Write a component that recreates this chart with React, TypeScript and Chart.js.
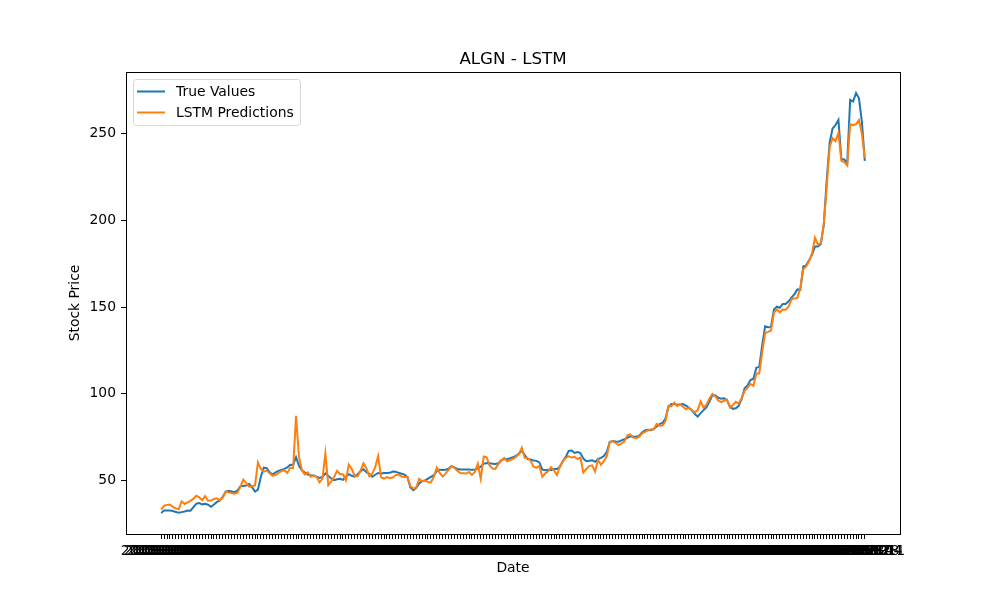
import React from 'react';
import Chart from 'chart.js/auto';

// weekly closing prices
const trueValues: number[] = [
  31.1, 32.5, 32.6, 32.5, 32.2, 31.7, 31.2, 31.6, 32, 32.5,
  32.4, 34.5, 36.5, 36.8, 36.1, 36.4, 35.9, 34.7, 36, 37.5,
  38.2, 40.5, 43.3, 43.9, 43.5, 43.1, 44, 46.5, 46.7, 47,
  47.8, 46, 43.5, 44.6, 52, 57.3, 57, 54.6, 53.3, 54.6,
  55.4, 56, 56.6, 57.4, 59, 58.8, 63.3, 58.4, 55.8, 54.4,
  53.3, 52.9, 52.8, 52.1, 51.4, 51.9, 54, 52.5, 51, 50,
  50.6, 50.9, 50.2, 52, 53.5, 52.6, 52.1, 53.5, 55.3, 56.3,
  54.6, 53.7, 52, 53.2, 54.2, 53.9, 54.2, 54.2, 54.3, 55,
  54.9, 54.3, 53.8, 53.3, 51.8, 45.8, 44.3, 45.6, 48.2, 49.5,
  49.9, 50.9, 52, 52.9, 55.3, 56.1, 56, 56.1, 56.7, 58.2,
  57.5, 56.5, 56.2, 56.2, 56.2, 56.2, 56, 56, 56.9, 57.8,
  59.5, 60, 59.8, 59.6, 59.4, 59.8, 61.7, 62.3, 62.2, 62.7,
  63.3, 64.1, 65.3, 67.2, 64.5, 62.3, 62, 61.4, 61.2, 60.3,
  56.2, 55.8, 56.1, 56, 56.5, 56.5, 57.8, 61, 63.5, 67,
  67.2, 65.8, 66.3, 65.7, 62.5, 61, 61.3, 61.6, 60.7, 62.2,
  62.9, 64, 66.5, 72.1, 72.6, 72.4, 72.3, 73, 73.7, 74.5,
  75.4, 75.1, 75.1, 75.6, 77.6, 78.8, 79.2, 78.9, 79.6, 81,
  82.4, 83.1, 85.6, 92.2, 94, 94, 93.6, 93.8, 94, 93.1,
  91.8, 90.5, 88.2, 86.8, 88.8, 90.5, 92.2, 95.5, 99, 99.1,
  97.6, 97.1, 97.3, 96.1, 92.5, 91.2, 91.6, 93, 97, 103.1,
  104.8, 107.9, 108.6, 114.9, 115.5, 128, 138.9, 138.4, 138.5, 148.6,
  150.2, 149.6, 151.8, 151.8, 153.3, 155.5, 157.5, 160.2, 160, 173.4,
  174.1, 177.1, 180.3, 184.9, 184.9, 186.4, 197.5, 223.4, 245, 253.1,
  255.1, 258.1, 235.5, 235.2, 233, 269.6, 268.7, 273.6, 270.5, 257,
  234.4,
];

const lstmPredictions: number[] = [
  33.1, 35.3, 35.8, 36, 34.6, 33.7, 33.3, 37.8, 36.3, 37.2,
  38.1, 39.4, 41.1, 40.1, 38.5, 40.9, 38.2, 38.3, 39.2, 39.6,
  38.6, 39.8, 43.5, 43, 42.7, 42.3, 42.8, 46, 50.4, 48.4,
  46.3, 46.6, 47, 60.3, 56.5, 55, 55.6, 54, 52.6, 53,
  54.2, 55.3, 55.8, 54.2, 57.2, 57, 87.2, 63.5, 55.8, 53.4,
  54.5, 52, 52.7, 52, 48.8, 50.8, 65.5, 47.2, 49.3, 51.9,
  55.5, 53.5, 53.5, 50, 59, 56.5, 52.5, 52.3, 55.5, 59.8,
  57, 52.3, 53.8, 57.5, 64, 51.7, 51, 51.8, 51.2, 51.6,
  53, 53.3, 52.2, 51.9, 51.9, 46.7, 45.2, 45.8, 50.8, 49.4,
  49.8, 49, 48.8, 52, 57.3, 54.2, 52.1, 53.8, 56, 58,
  57.2, 55.5, 54.2, 54.1, 53.9, 54.8, 53.1, 54.8, 59.5, 50.8,
  63.7, 63.2, 58.5, 56.8, 56.6, 59.3, 61.3, 62.9, 61, 61.7,
  62.3, 63.5, 65.2, 68.8, 63, 62.8, 61.2, 57.9, 57.3, 58.2,
  52, 54, 55.2, 57.6, 55.6, 53, 58.1, 60.9, 62.9, 63.8,
  63.1, 63.5, 62.3, 63, 54.5, 56.5, 58.2, 58.6, 55, 61.8,
  59, 61, 64, 72, 72.6, 71.5, 70.3, 71.3, 72.4, 76,
  76.5, 74.6, 74.3, 75, 77, 78, 78.8, 79.3, 79.3, 82.5,
  81.5, 81.6, 84, 93, 92.6, 94.8, 92.9, 93.8, 92.5, 91,
  91.8, 90.6, 89.2, 90.5, 95.5, 92, 93.6, 97.2, 99.8, 98.5,
  96, 95.1, 95.9, 96.6, 92, 93.5, 95.3, 94.3, 97.5, 101.6,
  103.5, 105.6, 104.5, 111.7, 111.7, 124, 135, 135.7, 136.5, 146.8,
  148.6, 147, 148.6, 148.5, 150.2, 154.5, 155, 155.3, 161, 171.8,
  173.5, 176.5, 181, 190, 186, 187, 197.7, 219.5, 242.5, 247.5,
  245.8, 250.5, 234.5, 233.7, 231.7, 255.6, 255.2, 255.5, 258, 250,
  236,
];

const yTicks: number[] = [50, 100, 150, 200, 250];

// one date label per week (they overlap into a band, as in the original)
const dates: string[] = [];
for (let i = 0; i < trueValues.length; i++) {
  const d = new Date(Date.UTC(2013, 0, 4 + i * 7));
  dates.push(d.toISOString().slice(0, 10));
}

const FONT = "'DejaVu Sans', sans-serif";

const framePlugin = {
  id: 'frame',
  afterDraw(chart: any) {
    const { ctx, chartArea: a } = chart;
    ctx.save();
    ctx.strokeStyle = '#000';
    ctx.lineWidth = 1;
    ctx.strokeRect(Math.round(a.left) + 0.5, Math.round(a.top) + 0.5, Math.round(a.right - a.left), Math.round(a.bottom - a.top));
    // title
    ctx.fillStyle = '#000';
    ctx.font = `16.7px ${FONT}`;
    ctx.textAlign = 'center';
    ctx.textBaseline = 'bottom';
    ctx.fillText('ALGN - LSTM', (a.left + a.right) / 2, a.top - 4);
    ctx.restore();
  },
};

const legendPlugin = {
  id: 'boxLegend',
  afterDraw(chart: any) {
    const { ctx, chartArea: a } = chart;
    const x = Math.round(a.left) + 7;
    const y = Math.round(a.top) + 7;
    ctx.save();
    ctx.beginPath();
    ctx.roundRect(x + 0.5, y + 0.5, 167, 46, 3);
    ctx.fillStyle = 'rgba(255,255,255,0.8)';
    ctx.fill();
    ctx.strokeStyle = '#d6d6d6';
    ctx.lineWidth = 1;
    ctx.stroke();
    ctx.font = `13.9px ${FONT}`;
    ctx.textBaseline = 'middle';
    ctx.textAlign = 'left';
    chart.data.datasets.forEach((ds: any, i: number) => {
      const ry = y + 12.5 + i * 21;
      ctx.strokeStyle = ds.borderColor;
      ctx.lineWidth = 2;
      ctx.beginPath();
      ctx.moveTo(x + 4, ry);
      ctx.lineTo(x + 32, ry);
      ctx.stroke();
      ctx.fillStyle = '#000';
      ctx.fillText(ds.label, x + 43, ry + 1);
    });
    ctx.restore();
  },
};

export default function App() {
  const chartRef = React.useRef<HTMLCanvasElement>(null);
  const chartInstance = React.useRef<Chart | null>(null);

  React.useEffect(() => {
    if (!chartRef.current) return;
    const ctx = chartRef.current.getContext('2d');
    if (!ctx) return;
    if (chartInstance.current) chartInstance.current.destroy();

    const n = trueValues.length;
    const all = trueValues.concat(lstmPredictions);
    const lo = Math.min(...all);
    const hi = Math.max(...all);
    const m = (hi - lo) * 0.05;

    chartInstance.current = new Chart(ctx, {
      type: 'line',
      data: {
        datasets: [
          {
            label: 'True Values',
            data: trueValues.map((v, i) => ({ x: i, y: v })),
            borderColor: '#1f77b4',
            borderWidth: 2,
            pointRadius: 0,
            tension: 0,
            order: 1,
          },
          {
            label: 'LSTM Predictions',
            data: lstmPredictions.map((v, i) => ({ x: i, y: v })),
            borderColor: '#ff7f0e',
            borderWidth: 2,
            pointRadius: 0,
            tension: 0,
            order: 0,
          },
        ],
      },
      options: {
        animation: false,
        responsive: false,
        devicePixelRatio: 1,
        layout: { padding: { left: 63, right: 100, top: 72, bottom: 19 } },
        plugins: {
          legend: { display: false },
          title: { display: false },
          tooltip: { enabled: false },
        },
        scales: {
          x: {
            type: 'linear',
            bounds: 'data',
            min: -(n - 1) * 0.05,
            max: (n - 1) * 1.05,
            afterBuildTicks: (axis: any) => {
              axis.ticks = dates.map((_, i) => ({ value: i }));
            },
            afterFit: (scale: any) => {
              scale.height = 47;
            },
            grid: { drawOnChartArea: false, drawTicks: true, tickLength: 5, tickColor: '#000', tickWidth: 1 },
            border: { display: true, color: '#000', width: 1 },
            ticks: {
              autoSkip: false,
              maxRotation: 0,
              minRotation: 0,
              padding: 4,
              color: '#000',
              font: { family: FONT, size: 13.9 },
              callback: (value: any) => dates[value] ?? '',
            },
            title: { display: true, text: 'Date', color: '#000', font: { family: FONT, size: 13.9 }, padding: { top: 4, bottom: 4 } },
          },
          y: {
            type: 'linear',
            min: lo - m,
            max: hi + m,
            afterBuildTicks: (axis: any) => {
              axis.ticks = yTicks.map((v) => ({ value: v }));
            },
            afterFit: (scale: any) => {
              scale.width = 63;
            },
            grid: { drawOnChartArea: false, drawTicks: true, tickLength: 5, tickColor: '#000', tickWidth: 1 },
            border: { display: true, color: '#000', width: 1 },
            ticks: {
              padding: 5,
              color: '#000',
              font: { family: FONT, size: 13.9 },
              callback: (value: any) => String(value),
            },
            title: { display: true, text: 'Stock Price', color: '#000', font: { family: FONT, size: 13.9 }, padding: { top: 4, bottom: 4 } },
          },
        },
      },
      plugins: [framePlugin, legendPlugin],
    });

    return () => {
      if (chartInstance.current) {
        chartInstance.current.destroy();
        chartInstance.current = null;
      }
    };
  }, []);

  return (
    <div style={{ position: 'absolute', left: 0, top: 0, width: 1000, height: 600, background: '#fff' }}>
      <canvas ref={chartRef} width={1000} height={600}></canvas>
    </div>
  );
}
